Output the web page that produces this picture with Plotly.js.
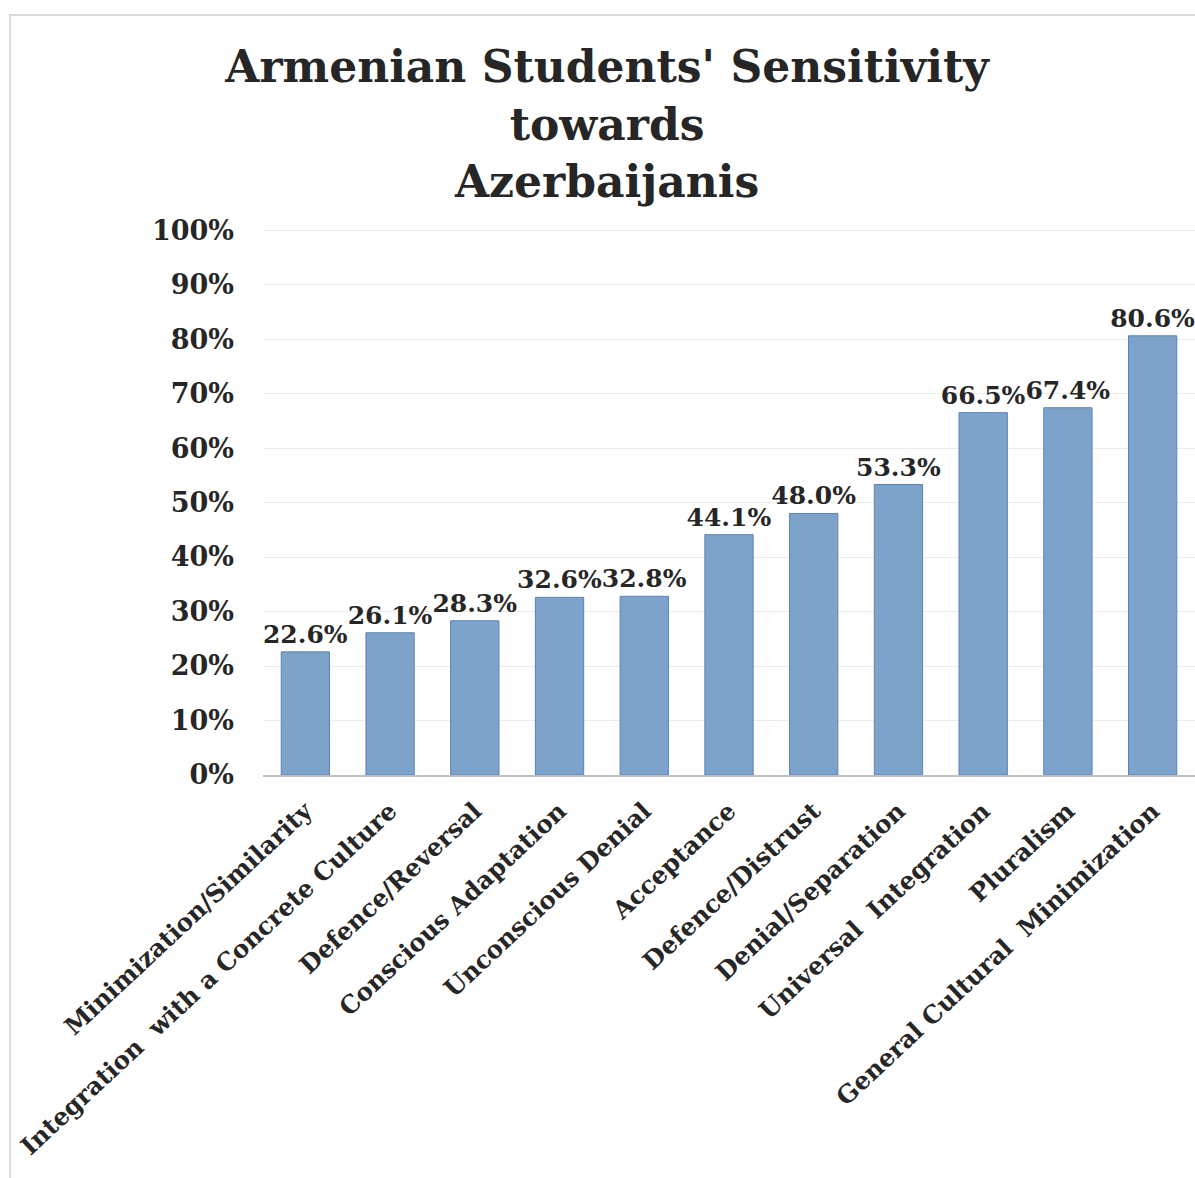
<!DOCTYPE html>
<html>
<head>
<meta charset="utf-8">
<script src="https://cdn.plot.ly/plotly-3.0.1.min.js"></script>
<style>
  html, body { margin: 0; padding: 0; background: #ffffff; }
  #chart { width: 1195px; height: 1178px; }
  #frame { position: absolute; left: 9px; top: 14px; width: 1186px; height: 1164px;
           border-left: 2px solid #d9d9d9; border-top: 2px solid #d9d9d9; pointer-events: none; box-sizing: border-box; }
</style>
</head>
<body>
<div id="chart"></div>
<div id="frame"></div>
<script>
const categories = [
  "Minimization/Similarity",
  "Integration  with a Concrete Culture",
  "Defence/Reversal",
  "Conscious Adaptation",
  "Unconscious Denial",
  "Acceptance",
  "Defence/Distrust",
  "Denial/Separation",
  "Universal  Integration",
  "Pluralism",
  "General Cultural  Minimization"
];
const values = [0.226, 0.261, 0.283, 0.326, 0.328, 0.441, 0.480, 0.533, 0.665, 0.674, 0.806];
const yTickVals = [0, 0.1, 0.2, 0.3, 0.4, 0.5, 0.6, 0.7, 0.8, 0.9, 1.0];
const titleText = "Armenian Students' Sensitivity<br>towards<br>Azerbaijanis";

const serif = "DejaVu Serif, Liberation Serif, serif";

const trace = {
  type: "bar",
  x: categories,
  y: values,
  marker: { color: "#7ea3cb", line: { color: "#5a82b8", width: 1 } },
  text: values.map(v => (v * 100).toFixed(1) + "%"),
  textposition: "outside",
  constraintext: "none",
  cliponaxis: false,
  textfont: { family: serif, size: 25, color: "#262626", weight: "bold" },
  hoverinfo: "skip"
};

const layout = {
  width: 1195,
  height: 1178,
  margin: { l: 263, r: 0, t: 229, b: 403 },
  paper_bgcolor: "#ffffff",
  plot_bgcolor: "#ffffff",
  showlegend: false,
  bargap: 0.43,
  title: {
    text: titleText,
    font: { family: serif, size: 44, color: "#262626", weight: "bold" },
    x: 0.508, xref: "container", xanchor: "center",
    y: 0.93, yref: "container", yanchor: "top"
  },
  xaxis: {
    type: "category",
    tickangle: -43,
    tickfont: { family: serif, size: 24.5, color: "#262626", weight: "bold" },
    showline: true, linecolor: "#bfbfbf", linewidth: 2,
    ticks: "", showgrid: false, zeroline: false,
    ticklabelstandoff: 10
  },
  yaxis: {
    range: [0, 1.002],
    tickvals: yTickVals,
    tickformat: ".0%",
    tickfont: { family: serif, size: 27, color: "#262626", weight: "bold" },
    showgrid: true, gridcolor: "#ececec", gridwidth: 1,
    showline: false, zeroline: false, ticks: "",
    ticklabelstandoff: 28
  }
};

Plotly.newPlot("chart", [trace], layout, { displayModeBar: false, staticPlot: true });
</script>
</body>
</html>
